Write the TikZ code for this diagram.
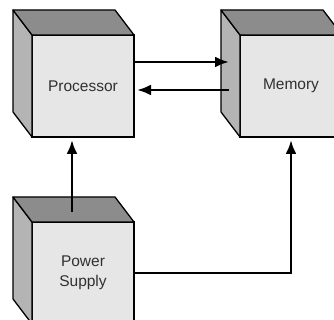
\documentclass[tikz,border=0pt]{standalone}
\usepackage{fontspec}
\setmainfont{Liberation Sans}
\definecolor{facefront}{HTML}{E6E6E6}
\definecolor{facetop}{HTML}{8C8C8C}
\definecolor{faceside}{HTML}{B4B4B4}
\definecolor{labelgray}{HTML}{303030}
\usetikzlibrary{arrows.meta, positioning}

\begin{document}
\begin{tikzpicture}[
  x=1pt, y=1pt,
  node distance=106pt,
  unit/.style={rectangle, draw=black, fill=facefront, line width=1.3pt,
    minimum width=102pt, minimum height=102pt, inner sep=0pt, outer sep=0pt,
    align=center, text=labelgray, font=\fontsize{15.5}{20}\selectfont},
  topface/.style={fill=facetop, draw=black, line width=1.3pt, line join=round},
  sideface/.style={fill=faceside, draw=black, line width=1.3pt, line join=round},
  arrow/.style={-{Latex[length=14pt, width=11pt]}, line width=2.7pt, draw=black}
]
\useasboundingbox (0,0) rectangle (334,320);
\node[unit] (cpu) at (83,234) {Processor};
\node[unit, right=of cpu] (mem) {Memory};
\node[unit, below=85pt of cpu] (psu) {Power\\Supply};
\foreach \n in {cpu,mem,psu} {
  \filldraw[sideface] (\n.north west) -- ++(-19,25) -- ++(0,-102) -- (\n.south west) -- cycle;
  \filldraw[topface] (\n.north west) -- ++(-19,25) -- ++(102,0) -- (\n.north east) -- cycle;
}
\draw[arrow] ([yshift=24pt]cpu.east) -- ([xshift=-11pt, yshift=24pt]mem.west);
\draw[arrow] ([xshift=-11pt, yshift=-4pt]mem.west) -- ([xshift=3pt, yshift=-4pt]cpu.east);
\draw[arrow] ([xshift=-11pt, yshift=10pt]psu.north) -- ([xshift=-11pt, yshift=-3pt]cpu.south);
\draw[arrow] (psu.east) -| ([yshift=-3pt]mem.south);
\end{tikzpicture}
\end{document}
